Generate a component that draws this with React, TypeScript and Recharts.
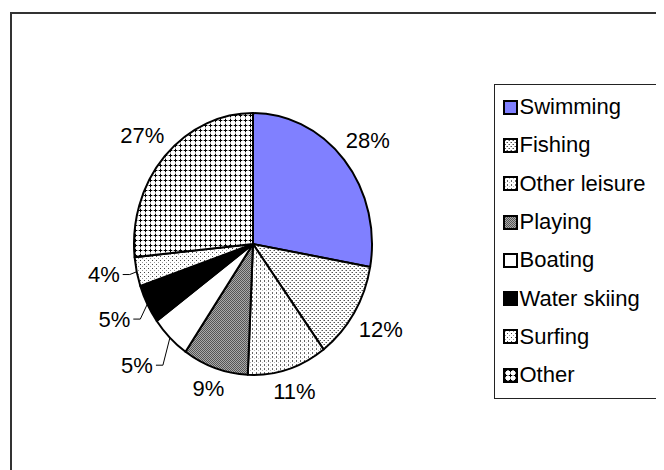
import React from 'react';
import { PieChart, Pie, Cell, Legend } from 'recharts';

const categories = ['Swimming', 'Fishing', 'Other leisure', 'Playing', 'Boating', 'Water skiing', 'Surfing', 'Other'];
const shares = [27.8, 12.1, 10.8, 8.9, 5.4, 4.8, 3.6, 26.6];
const fills = ['#8080FF', 'url(#pFishing)', 'url(#pLeisure)', 'url(#pPlaying)', '#FFFFFF', '#000000', 'url(#pSurfing)', 'url(#pOther)'];

const data = categories.map((name, i) => ({ name, value: shares[i] }));

const RY = 1.1;
const FONT = '"Liberation Sans", Arial, sans-serif';
const FS = 22;
const RAD = Math.PI / 180;

function EllipseSector(props: any) {
  const { cx, cy, outerRadius, startAngle, endAngle, fill } = props;
  const rx = outerRadius;
  const ry = outerRadius * RY;
  const x1 = cx + rx * Math.cos(startAngle * RAD);
  const y1 = cy - ry * Math.sin(startAngle * RAD);
  const x2 = cx + rx * Math.cos(endAngle * RAD);
  const y2 = cy - ry * Math.sin(endAngle * RAD);
  const large = Math.abs(endAngle - startAngle) > 180 ? 1 : 0;
  const sweep = endAngle < startAngle ? 1 : 0;
  const d = `M${cx},${cy} L${x1},${y1} A${rx},${ry} 0 ${large} ${sweep} ${x2},${y2} Z`;
  return <path d={d} fill={fill} stroke="#000" strokeWidth={2} strokeLinejoin="round" />;
}

function renderLabel(p: any) {
  const { cx, cy, midAngle, outerRadius, value } = p;
  const c = Math.cos(midAngle * RAD);
  const s = -Math.sin(midAngle * RAD); // positive = below centre
  const rx = outerRadius;
  const ry = outerRadius * RY;
  const text = `${Math.round(value)}%`;
  const ex = cx + rx * c;
  const ey = cy + ry * s;
  if (value < 6) {
    const bx = ex - 7;
    const by = ey + 49 * s - 7.6;
    return (
      <g>
        <polyline points={`${ex},${ey} ${bx},${by} ${bx - 7},${by}`} fill="none" stroke="#000" strokeWidth={1} />
        <text x={bx - 10} y={by} textAnchor="end" dominantBaseline="central" fontSize={FS} fontFamily={FONT} fill="#000">{text}</text>
      </g>
    );
  }
  const hw = (text.length === 3 ? 2.0 : 1.445) * FS / 2;
  const hh = 9;
  const n = Math.hypot(c, s);
  const ux = c / n;
  const uy = s / n;
  const dist = Math.abs(ux) * hw + Math.abs(uy) * hh + 8;
  const x = ex + ux * dist;
  const y = ey + uy * dist;
  return (
    <text x={x} y={y} textAnchor="middle" dominantBaseline="central" fontSize={FS} fontFamily={FONT} fill="#000">{text}</text>
  );
}

function renderLegend(props: any) {
  const payload = [...(props.payload || [])].sort(
    (a: any, b: any) => categories.indexOf(a.value) - categories.indexOf(b.value)
  );
  return (
    <div style={{ width: 167, height: 315, border: '1.5px solid #222', boxSizing: 'border-box', paddingTop: 3, background: '#fff', fontFamily: FONT }}>
      {payload.map((e: any, i: number) => (
        <div key={i} style={{ height: 38.3, display: 'flex', alignItems: 'center', paddingLeft: 7.5 }}>
          <svg width={15} height={15} style={{ marginRight: 2, flex: 'none' }}>
            <rect x={1} y={1} width={13} height={13} fill={e.color} stroke="#000" strokeWidth={2} />
          </svg>
          <span style={{ fontSize: FS, color: '#000', whiteSpace: 'nowrap', lineHeight: '26px' }}>{e.value}</span>
        </div>
      ))}
    </div>
  );
}

export default function App() {
  return (
    <div style={{ position: 'relative', width: 656, height: 462, fontFamily: FONT }}>
      <svg width={0} height={0} style={{ position: 'absolute' }}>
        <defs>
          <pattern id="pFishing" width={4} height={4} patternUnits="userSpaceOnUse">
            <rect width={4} height={4} fill="#fff" />
            <rect x={0} y={0} width={1} height={1} fill="#555" />
            <rect x={2} y={2} width={1} height={1} fill="#555" />
            <rect x={1} y={2} width={1} height={1} fill="#aaa" />
            <rect x={3} y={0} width={1} height={1} fill="#aaa" />
          </pattern>
          <pattern id="pLeisure" width={4} height={4} patternUnits="userSpaceOnUse">
            <rect width={4} height={4} fill="#fff" />
            <rect x={0} y={0} width={1} height={2} fill="#666" />
            <rect x={2} y={2} width={1} height={1} fill="#bbb" />
          </pattern>
          <pattern id="pPlaying" width={2} height={2} patternUnits="userSpaceOnUse">
            <rect width={2} height={2} fill="#aaa" />
            <rect x={0} y={0} width={1} height={1} fill="#555" />
            <rect x={1} y={1} width={1} height={1} fill="#555" />
          </pattern>
          <pattern id="pSurfing" width={4} height={4} patternUnits="userSpaceOnUse">
            <rect width={4} height={4} fill="#fff" />
            <rect x={0} y={0} width={1} height={1} fill="#444" />
            <rect x={2} y={2} width={1} height={1} fill="#999" />
          </pattern>
          <pattern id="pOther" width={5} height={5} patternUnits="userSpaceOnUse">
            <rect width={5} height={5} fill="#fff" />
            <rect x={0} y={2} width={5} height={1} fill="#aaa" />
            <rect x={2} y={0} width={1} height={5} fill="#aaa" />
            <rect x={1} y={2} width={3} height={1} fill="#000" />
            <rect x={2} y={1} width={1} height={3} fill="#000" />
          </pattern>
        </defs>
      </svg>
      <div style={{ position: 'absolute', left: 2, top: 4, width: 654, height: 458, borderLeft: '2px solid #333', borderTop: '2px solid #333', boxSizing: 'border-box' }} />
      <PieChart width={656} height={462} margin={{ top: 0, right: 0, bottom: 0, left: 0 }}>
        <Pie
          data={data}
          dataKey="value"
          nameKey="name"
          cx={245}
          cy={236}
          outerRadius={119}
          startAngle={90}
          endAngle={-270}
          isAnimationActive={false}
          shape={EllipseSector}
          label={renderLabel}
          labelLine={false}
        >
          {data.map((d, i) => (
            <Cell key={d.name} fill={fills[i]} />
          ))}
        </Pie>
        <Legend
          content={renderLegend}
          wrapperStyle={{ position: 'absolute', left: 486, top: 76, width: 167, height: 315 }}
        />
      </PieChart>
    </div>
  );
}
